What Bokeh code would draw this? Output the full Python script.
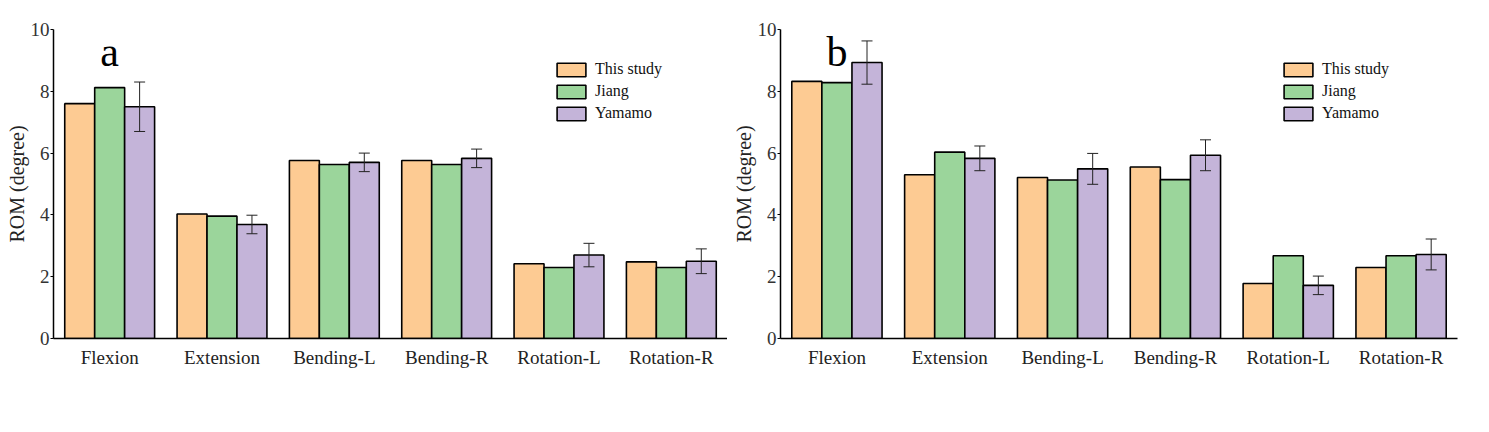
from bokeh.plotting import figure
from bokeh.models import (ColumnDataSource, FactorRange, Range1d, Whisker, TeeHead,
                          Legend, LegendItem, FixedTicker)
from bokeh.transform import dodge
from bokeh.layouts import row
from bokeh.core.properties import value
from bokeh.embed import file_html
from bokeh.resources import INLINE

categories = ["Flexion", "Extension", "Bending-L", "Bending-R", "Rotation-L", "Rotation-R"]
series_names = ["This study", "Jiang", "Yamamo"]

a_this = [7.60, 4.03, 5.76, 5.76, 2.42, 2.48]
a_jiang = [8.12, 3.96, 5.63, 5.63, 2.30, 2.30]
a_yamamo = [7.50, 3.69, 5.70, 5.83, 2.70, 2.50]
a_err = [0.80, 0.30, 0.30, 0.30, 0.38, 0.40]

b_this = [8.32, 5.30, 5.21, 5.55, 1.78, 2.30]
b_jiang = [8.28, 6.03, 5.13, 5.14, 2.68, 2.68]
b_yamamo = [8.93, 5.83, 5.49, 5.93, 1.72, 2.72]
b_err = [0.70, 0.40, 0.50, 0.50, 0.30, 0.50]

y_ticks = [0, 2, 4, 6, 8, 10]
colors = ["#FDCB93", "#9BD59B", "#C4B4D9"]
FONT = "Liberation Serif"


def make_panel(letter, this, jiang, yam, err, width, right_border):
    src = ColumnDataSource(dict(
        cat=categories, this=this, jiang=jiang, yam=yam,
        upper=[v + e for v, e in zip(yam, err)],
        lower=[v - e for v, e in zip(yam, err)],
    ))
    p = figure(x_range=FactorRange(factors=categories, range_padding=0),
               y_range=Range1d(0, 10), width=width, height=400,
               output_backend="svg", toolbar_location=None,
               min_border_left=53, min_border_right=right_border,
               min_border_top=29, min_border_bottom=62)
    bw = 0.8 / 3
    renderers = []
    for off, col, c in zip([-bw, 0, bw], ["this", "jiang", "yam"], colors):
        r = p.vbar(x=dodge("cat", off, range=p.x_range), top=col, width=bw,
                   source=src, fill_color=c, line_color="black", line_width=1.6)
        renderers.append(r)
    w = Whisker(base=dodge("cat", bw, range=p.x_range), upper="upper", lower="lower",
                source=src, line_color="#222222", line_width=1, level="overlay",
                upper_head=TeeHead(size=11, line_color="#222222", line_width=1),
                lower_head=TeeHead(size=11, line_color="#222222", line_width=1))
    p.add_layout(w)

    p.text(x=["Flexion"], y=[9.27], text=[letter], text_font=value(FONT),
           text_font_size="42px", text_align="center", text_baseline="alphabetic",
           text_color="black")

    legend = Legend(items=[LegendItem(label=n, renderers=[r]) for n, r in zip(series_names, renderers)],
                    location=(500, 216), border_line_color=None, background_fill_alpha=0,
                    padding=0, margin=0, spacing=4, glyph_width=36, glyph_height=17,
                    label_height=17, label_standoff=6, label_text_font=FONT,
                    label_text_font_size="16px", label_text_color="#111111")
    p.add_layout(legend)

    p.outline_line_color = None
    p.xgrid.grid_line_color = None
    p.ygrid.grid_line_color = None

    p.yaxis.ticker = FixedTicker(ticks=y_ticks)
    p.yaxis.axis_label = "ROM (degree)"
    p.yaxis.axis_label_text_font = FONT
    p.yaxis.axis_label_text_font_size = "20px"
    p.yaxis.axis_label_text_font_style = "normal"
    p.yaxis.axis_label_text_color = "#222222"
    p.yaxis.axis_label_standoff = 0
    p.yaxis.major_label_text_font = FONT
    p.yaxis.major_label_text_font_size = "19px"
    p.yaxis.major_label_text_color = "#333333"
    p.yaxis.major_label_standoff = 1
    p.yaxis.major_tick_out = 3
    p.yaxis.major_tick_in = 0
    p.yaxis.minor_tick_line_color = None
    p.yaxis.axis_line_color = "black"
    p.yaxis.axis_line_width = 1.5

    p.xaxis.major_label_text_font = FONT
    p.xaxis.major_label_text_font_size = "19px"
    p.xaxis.major_label_text_color = "#222222"
    p.xaxis.major_tick_line_color = None
    p.xaxis.minor_tick_line_color = None
    p.xaxis.major_label_standoff = 2
    p.xaxis.axis_line_color = "black"
    p.xaxis.axis_line_width = 1.5
    return p


pa = make_panel("a", a_this, a_jiang, a_yamamo, a_err, 727, 0)
pb = make_panel("b", b_this, b_jiang, b_yamamo, b_err, 750, 20)
layout = row(pa, pb)

open("out.html", "w").write(file_html(layout, INLINE))
